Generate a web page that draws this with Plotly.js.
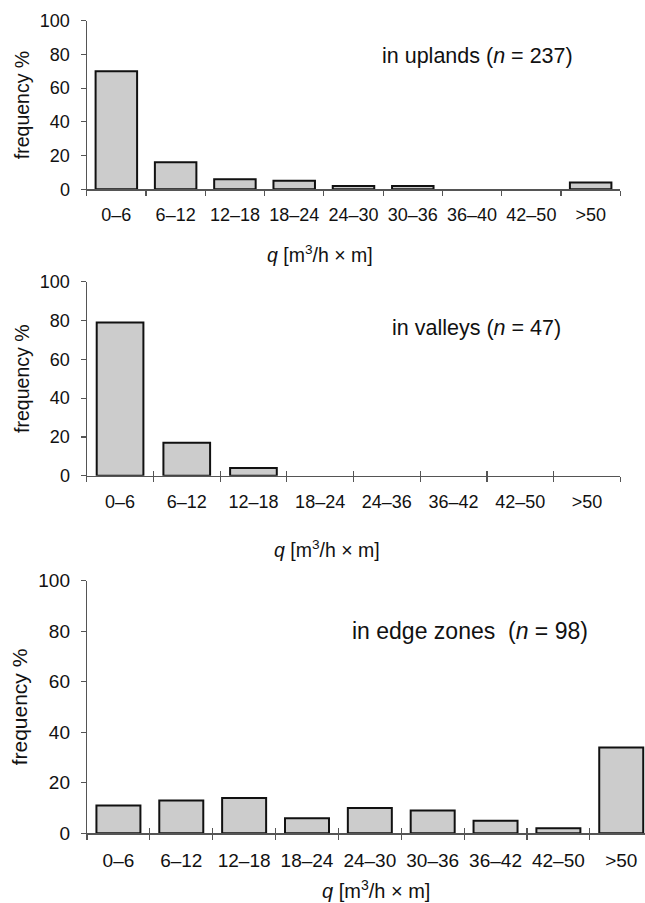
<!DOCTYPE html>
<html>
<head>
<meta charset="utf-8">
<script src="https://cdn.plot.ly/plotly-3.0.1.min.js"></script>
<style>html,body{margin:0;padding:0;background:#fff;overflow:hidden}#chart{width:645px;height:903px}</style>
</head>
<body>
<div id="chart"></div>
<script>
// ---- data ----
const catsUplands = ['0–6','6–12','12–18','18–24','24–30','30–36','36–40','42–50','>50'];
const valsUplands = [70,16,6,5,2,2,0,0,4];
const catsValleys = ['0–6','6–12','12–18','18–24','24–36','36–42','42–50','>50'];
const valsValleys = [79,17,4,0,0,0,0,0];
const catsEdge = ['0–6','6–12','12–18','18–24','24–30','30–36','36–42','42–50','>50'];
const valsEdge = [11,13,14,6,10,9,5,2,34];
const labelUplands = 'in uplands (<i>n</i> = 237)';
const labelValleys = 'in valleys (<i>n</i> = 47)';
const labelEdge = 'in edge zones  (<i>n</i> = 98)';
const xTitle = '<i>q</i> [m<sup>3</sup>/h × m]';
const yTitle = 'frequency %';
const yTicks = [0,20,40,60,80,100];

// ---- style ----
const FONT = '"Liberation Sans", Arial, Helvetica, sans-serif';
const AXC = '#555555';

function bar(x, y, xa, ya, hidden){
  return {type:'bar', x:x, y:y, xaxis:xa, yaxis:ya,
    marker: hidden ? {color:'rgba(0,0,0,0)', line:{width:0}}
                   : {color:'#cccccc', line:{color:'#111111', width:y.map(v => v > 0 ? 2 : 0)}},
    hoverinfo: hidden ? 'skip' : 'x+y', showlegend:false};
}
function xax(cats, dom, anchor, fs, stand, range, ticks, extra){
  return Object.assign({domain:dom, anchor:anchor, type:'category',
    categoryarray:cats, categoryorder:'array',
    range: range || [-0.5, cats.length-0.5],
    tickson:'boundaries', ticks:ticks, ticklen:5, tickwidth:1.2, tickcolor:AXC,
    showline:true, linecolor:AXC, linewidth:1.2, showgrid:false, zeroline:false,
    tickangle:0,
    tickfont:{family:FONT, size:fs, color:'#111'}, ticklabelstandoff:stand,
    fixedrange:true}, extra||{});
}
function yax(dom, anchor, fs, tfs, st){
  return {domain:dom, anchor:anchor, range:[0,100], tickvals:yTicks,
    ticks:'outside', ticklen:5, tickwidth:1.2, tickcolor:AXC,
    showline:true, linecolor:AXC, linewidth:1.2, showgrid:false, zeroline:false,
    tickfont:{family:FONT, size:fs, color:'#111'}, ticklabelstandoff:7,
    title:{text:yTitle, font:{family:FONT, size:tfs, color:'#111'}, standoff:st},
    fixedrange:true};
}

const W = 645, H = 903;
const px = v => v/W, py = v => 1 - v/H;

const d1x = [px(86.7), px(620.3)], d1y = [py(189.3), py(20.7)];
const d2x = [px(86.7), px(620.3)], d2y = [py(475.7), py(281.7)];
const d3x = [px(87), 1], d3y = [py(833.3), py(580.7)];
const r3 = [-0.5, 8.378];

const data = [
  bar(catsUplands, valsUplands, 'x', 'y'),
  bar(catsValleys, valsValleys, 'x2', 'y2'),
  bar(catsEdge, valsEdge, 'x3', 'y3'),
  bar(catsValleys, valsValleys, 'x4', 'y2', true),
  bar(catsEdge, valsEdge, 'x5', 'y3', true)
];

function ann(text, x, y, fs){
  return {text:text, xref:'paper', yref:'paper', x:px(x), y:py(y),
    xanchor:'center', yanchor:'middle', showarrow:false,
    font:{family:FONT, size:fs, color:'#111'}};
}

const layout = {
  width:W, height:H, margin:{l:0,r:0,t:0,b:0},
  paper_bgcolor:'#fff', plot_bgcolor:'rgba(0,0,0,0)',
  bargap:0.3, showlegend:false,
  xaxis: xax(catsUplands, d1x, 'y', 18, 9, null, 'outside'),
  yaxis: yax(d1y, 'x', 18, 19.5, 5),
  xaxis2: xax(catsValleys, d2x, 'y2', 18, 9, null, 'outside'),
  yaxis2: yax(d2y, 'x2', 18, 19.5, 5),
  xaxis3: xax(catsEdge, d3x, 'y3', 19, 10, r3, 'outside'),
  yaxis3: yax(d3y, 'x3', 19, 21, 5),
  xaxis4: xax(catsValleys, d2x, 'y2', 18, 9, null, 'inside', {overlaying:'x2', showline:false, showticklabels:false}),
  xaxis5: xax(catsEdge, d3x, 'y3', 19, 10, r3, 'inside', {overlaying:'x3', showline:false, showticklabels:false}),
  annotations:[
    ann(labelUplands, 477, 56, 21.5),
    ann(labelValleys, 476, 328, 21.5),
    ann(labelEdge, 470, 631, 23),
    ann(xTitle, 320, 254, 19.5),
    ann(xTitle, 327, 549, 19.5),
    ann(xTitle, 376, 889, 20)
  ]
};

Plotly.newPlot('chart', data, layout, {displayModeBar:false, staticPlot:true});
</script>
</body>
</html>
